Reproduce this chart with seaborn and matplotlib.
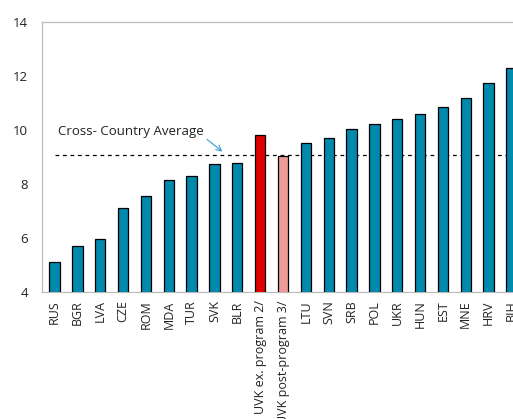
import matplotlib
matplotlib.use("Agg")
import matplotlib.pyplot as plt
import seaborn as sns
import pandas as pd
import numpy as np

countries = ["RUS", "BGR", "LVA", "CZE", "ROM", "MDA", "TUR", "SVK", "BLR",
             "UVK ex. program 2/", "UVK post-program 3/", "LTU", "SVN", "SRB",
             "POL", "UKR", "HUN", "EST", "MNE", "HRV", "BIH"]
values = [5.12, 5.7, 5.97, 7.12, 7.55, 8.15, 8.3, 8.74, 8.78,
          9.8, 9.02, 9.51, 9.69, 10.03, 10.22, 10.4, 10.6, 10.85, 11.2, 11.73, 12.28]
avg_value = 9.07
teal, red, pink = "#0189ad", "#e00000", "#ee9a99"
colors = [teal] * 9 + [red, pink] + [teal] * 10

sns.set_theme(style="white")
plt.rcParams["font.family"] = ["Open Sans", "DejaVu Sans"]

df = pd.DataFrame({"country": countries, "value": values})

fig = plt.figure(figsize=(5.13, 4.19), dpi=100)
ax = fig.add_axes([42 / 513, 127 / 419, 482 / 513, 270 / 419])

sns.barplot(data=df, x="country", y="value", hue="country", palette=colors,
            legend=False, width=0.45, edgecolor="black", linewidth=0.9,
            saturation=1, ax=ax, zorder=3)

ax.hlines(avg_value, 0, len(countries), colors="black", linestyles=(0, (3, 3)),
          linewidth=0.9, zorder=1)
ax.annotate("Cross- Country Average", xy=(7.35, 9.2), xytext=(0.15, 9.94),
            fontsize=9.5, va="center", ha="left", color="#222222",
            arrowprops=dict(arrowstyle="->", color="#3a9bd9", lw=0.8,
                            shrinkA=0, shrinkB=0, relpos=(1.0, 0.1)))

ax.set_xlim(-0.55, len(countries) - 0.45)
ax.set_ylim(4, 14)
ax.set_yticks([4, 6, 8, 10, 12, 14])
ax.set_xlabel("")
ax.set_ylabel("")
ax.tick_params(axis="x", length=0, labelsize=9, rotation=90, pad=6, colors="#222222")
ax.set_xticks(np.arange(len(countries)) + 0.5, minor=True)
ax.tick_params(axis="x", which="minor", direction="in", length=5, color="#bbbbbb", width=0.8)
ax.tick_params(axis="y", direction="in", length=4, labelsize=9.5,
               pad=10, labelcolor="#222222", color="#bbbbbb")
for s in ax.spines.values():
    s.set_color("#bbbbbb")
    s.set_linewidth(0.9)

fig.savefig("out.png", dpi=100)
